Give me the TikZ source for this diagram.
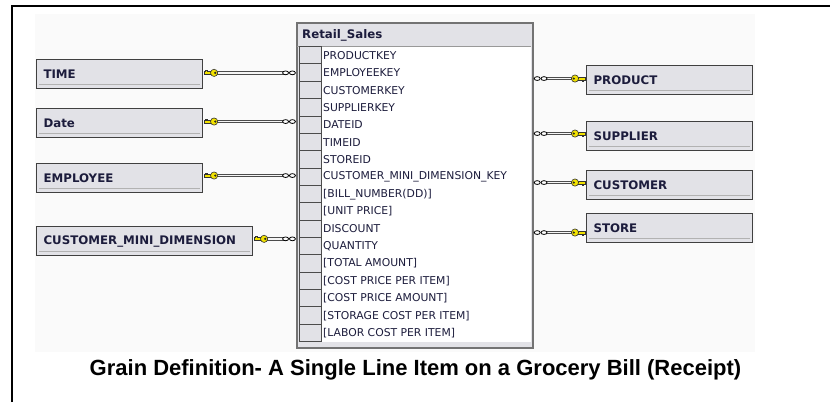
\documentclass[tikz,border=0pt]{standalone}
\usepackage{fontspec}
\setmainfont{Liberation Sans}
\newfontfamily\erdfont{DejaVu Sans}
\usepackage{xcolor}
\usepackage{tikz}
\usetikzlibrary{calc,positioning}

\definecolor{ink}{HTML}{1C1C3C}
\definecolor{boxgray}{HTML}{E2E2E7}
\definecolor{keyyellow}{HTML}{F2E200}

\tikzset{
  dim/.style={draw=black!75, line width=1.1pt, fill=boxgray, anchor=north west,
    minimum height=29, inner xsep=7, inner ysep=0, text=ink, align=left,
    font=\erdfont\bfseries\fontsize{11.8}{13}\selectfont},
  field/.style={anchor=west, inner sep=0, text=ink, font=\erdfont\fontsize{10.8}{12}\selectfont},
  pipe/.style={draw=black!70, line width=3.6pt, postaction={draw=black!4, line width=1.6pt}},
  selbox/.style={draw=black!70, line width=0.8pt, fill=boxgray},
  keytip/.pic={
    \draw[black!80, fill=keyyellow, line width=0.5] (2.6,-1.2) rectangle (10,1.2);
    \draw[black!80, fill=keyyellow, line width=0.5] (7,1.2) -- (7,2.8) -- (8.5,2.8) -- (8.5,1.2);
    \draw[black!80, fill=keyyellow, line width=0.6] (0,0) circle (3.6);
    \fill[black!85] (-1.2,0) circle (1.2);
  },
  chainlink/.pic={
    \draw[black, line width=0.8, fill=white] (-3.4,0) ellipse (3 and 1.9);
    \draw[black, line width=0.8, fill=white] (3.4,0) ellipse (3 and 1.9);
  }
}

\begin{document}
\begin{tikzpicture}[x=1pt, y=-1pt]

    \useasboundingbox (0,0) rectangle (830,402);
    \fill[black!2] (35,14) rectangle (755,352);
    \draw[line width=1.5pt] (12,402) -- (12,6) -- (830,6);

    % Fact table
    \node[draw=black!55, line width=1.6pt, fill=boxgray, anchor=north west,
      minimum width=236, minimum height=325, inner sep=0] (sales) at (296,22) {};
    \fill[white] (321,47) rectangle (531,342);
    \draw[black!40] (297,46.5) -- (531,46.5);
    \node[field, font=\erdfont\bfseries\fontsize{11.8}{13}\selectfont] (title) at (302,35) {Retail\_Sales};

    % Fields
    \foreach \f [count=\i from 0] in {PRODUCTKEY, EMPLOYEEKEY, CUSTOMERKEY, SUPPLIERKEY,
      DATEID, TIMEID, STOREID, CUSTOMER\_MINI\_DIMENSION\_KEY, {[BILL\_NUMBER(DD)]},
      {[UNIT PRICE]}, DISCOUNT, QUANTITY, {[TOTAL AMOUNT]}, {[COST PRICE PER ITEM]},
      {[COST PRICE AMOUNT]}, {[STORAGE COST PER ITEM]}, {[LABOR COST PER ITEM]}} {
        \pgfmathsetmacro\yt{46.5+17.35*\i}
        \draw[selbox] (299,\yt) rectangle (321,\yt+17.35);
        \node[field] (f\i) at (323,\yt+8.9) {\f};
    }

    % Dimensions
    \foreach \nm/\txt/\x/\y/\w in {time/TIME/36/59/166, date/Date/36/108/166,
      emp/EMPLOYEE/36/163/166, cmd/CUSTOMER\_MINI\_DIMENSION/36/226/216,
      product/PRODUCT/586/65/166, supplier/SUPPLIER/586/121/166,
      customer/CUSTOMER/586/170/166, store/STORE/586/213/166} {
        \pgfmathsetmacro\tw{\w-14}
        \node[dim, text width=\tw pt] (\nm) at (\x,\y) {\txt};
        \draw[black!30, line width=0.9pt] ([xshift=3,yshift=4.5]\nm.south west) -- ([xshift=-3,yshift=4.5]\nm.south east);
    }

    % Relations, left
    \foreach \nm/\dy in {time/1.2, date/1.5, emp/2.5, cmd/2.2} {
        \coordinate (k\nm) at ([yshift=\dy]\nm.east);
        \coordinate (m\nm) at (k\nm -| sales.west);
        \draw[pipe] ([xshift=11]k\nm) -- ([xshift=-12]m\nm);
        \pic[rotate=180] at ([xshift=11]k\nm) {keytip};
        \pic at ([xshift=-7]m\nm) {chainlink};
    }

    % Relations, right
    \foreach \nm/\dy in {product/1.5, supplier/2.5, customer/2.5, store/-4.5} {
        \coordinate (k\nm) at ([yshift=\dy]\nm.west);
        \coordinate (m\nm) at (k\nm -| sales.east);
        \draw[pipe] ([xshift=12]m\nm) -- ([xshift=-11]k\nm);
        \pic at ([xshift=-11]k\nm) {keytip};
        \pic at ([xshift=7]m\nm) {chainlink};
    }

    \node[font=\bfseries\fontsize{22}{24}\selectfont, anchor=base] (grain) at (415.5,375)
      {Grain Definition- A Single Line Item on a Grocery Bill (Receipt)};
\end{tikzpicture}
\end{document}
